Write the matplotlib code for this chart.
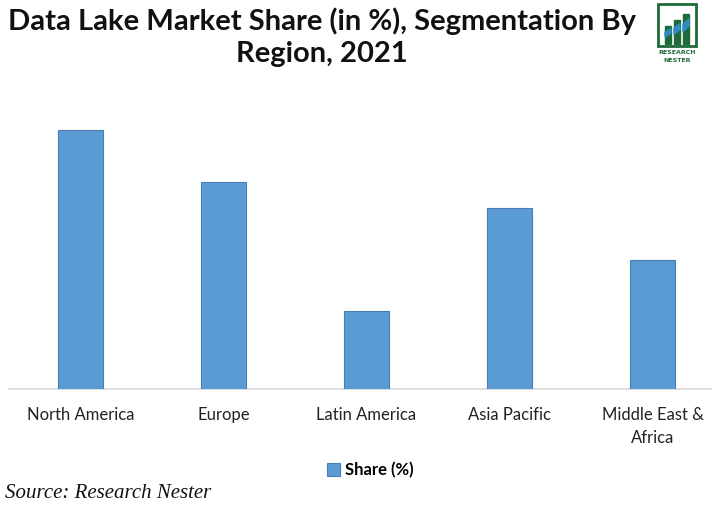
import matplotlib
matplotlib.use("Agg")
import matplotlib.pyplot as plt
from matplotlib.patches import Rectangle, Polygon

categories = ["North America", "Europe", "Latin America", "Asia Pacific", "Middle East &\nAfrica"]
share = [30, 24, 9, 21, 15]
series_name = "Share (%)"
title = "Data Lake Market Share (in %), Segmentation By\nRegion, 2021"
source = "Source: Research Nester"

W, H = 712, 507
fig = plt.figure(figsize=(W/100, H/100), dpi=100)

# axes: left 9px, right 712px, baseline at 389px, top at 87px
ax = fig.add_axes([9/W, 1-389/H, (712-9)/W, (389-87)/H])
ax.bar(range(len(categories)), share, width=0.315, color="#5B9BD5",
       edgecolor="#4A7EB0", linewidth=0.8, label=series_name, zorder=3)
ax.set_ylim(0, 35)
ax.set_xlim(-0.5, 4.416)
ax.set_xticks(range(len(categories)))
ax.set_xticklabels(categories, fontsize=12, family="Lato", color="#222222", linespacing=1.55)
ax.tick_params(axis="x", length=0, pad=13)
ax.set_yticks([])
for s in ["top", "right", "left"]:
    ax.spines[s].set_visible(False)
ax.spines["bottom"].set_color("#D9D9D9")
ax.spines["bottom"].set_linewidth(1.2)

fig.text(322/W, 1-37/H, title, ha="center", va="center", fontsize=21,
         fontweight="bold", family="Lato", linespacing=1.3, color="#111111")

leg = fig.legend(loc="center", bbox_to_anchor=(370/W, 1-470/H), frameon=False,
                 prop={"family": "Lato", "weight": "bold", "size": 12},
                 handlelength=0.8, handleheight=0.8, handletextpad=0.3)

fig.text(5/W, 1-494/H, source, ha="left", va="center", fontsize=15,
         style="italic", family="Liberation Serif", color="#111111")

# logo
lax = fig.add_axes([655/W, 1-66/H, 44/W, 64/H])
lax.set_xlim(0, 44); lax.set_ylim(0, 64)
lax.axis("off")
green = "#1E6B3A"
lax.add_patch(Rectangle((3, 20), 38, 42, fill=False, edgecolor=green, linewidth=2))
for i, (x, h) in enumerate([(10, 18), (19, 24), (28, 30)]):
    lax.add_patch(Rectangle((x, 22), 6, h, color=green))
    lax.add_patch(Polygon([(x, 22+h*0.4), (x+6, 22+h*0.6), (x+6, 22+h*0.85), (x, 22+h*0.65)], color="#2E8BC0"))
lax.text(22, 13, "RESEARCH", ha="center", va="center", fontsize=4.5, fontweight="bold", color=green)
lax.text(22, 6, "NESTER", ha="center", va="center", fontsize=4.5, fontweight="bold", color=green)

fig.savefig("out.png", dpi=100)
